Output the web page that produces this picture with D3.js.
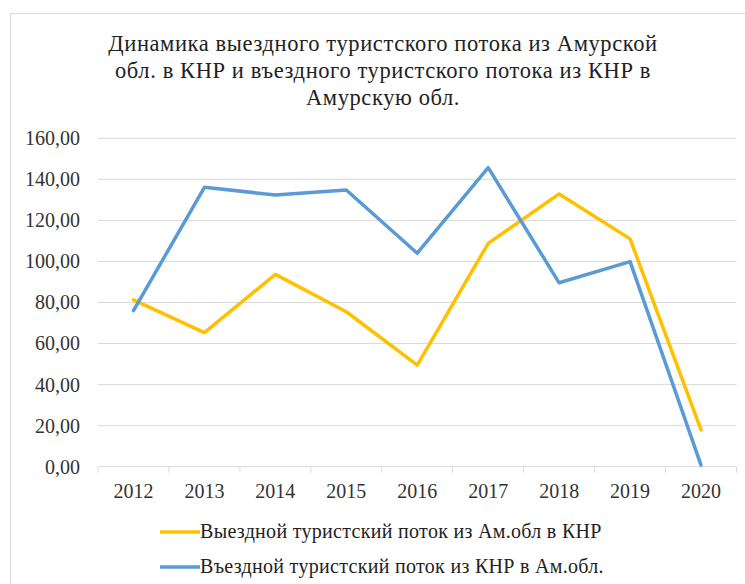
<!DOCTYPE html>
<html>
<head>
<meta charset="utf-8">
<script src="https://cdn.jsdelivr.net/npm/d3@7"></script>
</head>
<body style="margin:0">
<svg id="chart" width="745" height="584"></svg>
<script>
const years = ["2012","2013","2014","2015","2016","2017","2018","2019","2020"];
const outbound = [81.3, 65.3, 93.7, 75.5, 49.5, 108.8, 132.9, 111.0, 17.9];
const inbound = [76.0, 136.1, 132.4, 134.8, 104.0, 145.7, 89.6, 99.9, 0.8];
const yTicks = [0, 20, 40, 60, 80, 100, 120, 140, 160];
const seriesNames = ["Выездной туристский поток из Ам.обл в КНР", "Въездной туристский поток из КНР в Ам.обл."];
const seriesColors = ["#FFC000", "#5B9BD5"];
const titleLines = ["Динамика выездного туристского потока из Амурской", "обл. в КНР и въездного туристского потока из КНР в", "Амурскую обл."];

const FONT = "Liberation Serif";
const svg = d3.select("#chart");

// outer frame
svg.append("rect").attr("x", 10.5).attr("y", 13.5).attr("width", 760).attr("height", 600)
  .attr("fill", "#fff").attr("stroke", "#d9d9d9").attr("stroke-width", 1);

// title
svg.append("g").selectAll("text").data(titleLines).join("text")
  .attr("x", 383).attr("y", (d, i) => 51 + i * 27)
  .attr("text-anchor", "middle")
  .attr("font-family", FONT).style("font-family", `"${FONT}"`)
  .attr("font-size", 22.5).attr("letter-spacing", 0.6).attr("fill", "#222")
  .text(d => d);

const x = d3.scaleBand().domain(years).range([98, 736.5]);
const y = d3.scaleLinear().domain([0, 160]).range([466.7, 138.3]);

// gridlines
svg.append("g").selectAll("line").data(yTicks.filter(d => d > 0)).join("line")
  .attr("x1", 98).attr("x2", 736.5)
  .attr("y1", d => y(d)).attr("y2", d => y(d))
  .attr("stroke", "#d9d9d9").attr("stroke-width", 1);

// y axis labels
const yAxis = d3.axisLeft(y).tickValues(yTicks).tickSize(0).tickPadding(0)
  .tickFormat(d => d3.format(".2f")(d).replace(".", ","));
const gy = svg.append("g").attr("transform", "translate(80,0)").call(yAxis);
gy.attr("font-family", FONT).attr("font-size", 20);
gy.select(".domain").remove();
gy.selectAll("text").attr("font-family", FONT).style("font-family", `"${FONT}"`)
  .attr("font-size", 20).attr("fill", "#333");

// x axis
const xAxis = d3.axisBottom(x).tickSize(0).tickPadding(0);
const gx = svg.append("g").attr("transform", `translate(0,${y(0)})`).call(xAxis);
gx.attr("font-family", FONT).attr("font-size", 20);
gx.select(".domain").attr("stroke", "#d9d9d9").attr("d", `M98,0H736.5`);
gx.selectAll("text").attr("font-family", FONT).style("font-family", `"${FONT}"`)
  .attr("font-size", 20).attr("fill", "#333")
  .attr("dy", null).attr("y", 31);
// category boundary ticks
const bounds = years.map(d => x(d)).concat([x(years[years.length - 1]) + x.bandwidth()]);
gx.append("g").selectAll("line").data(bounds).join("line")
  .attr("x1", d => d).attr("x2", d => d).attr("y1", 0).attr("y2", 6)
  .attr("stroke", "#d9d9d9").attr("stroke-width", 1);

// lines
const line = d3.line().x((d, i) => x(years[i]) + x.bandwidth() / 2).y(d => y(d));
[outbound, inbound].forEach((s, i) => {
  svg.append("path").datum(s).attr("d", line)
    .attr("fill", "none").attr("stroke", seriesColors[i]).attr("stroke-width", 3.5)
    .attr("stroke-linejoin", "round").attr("stroke-linecap", "round");
});

// legend
const lg = svg.append("g").selectAll("g").data(seriesNames).join("g")
  .attr("transform", (d, i) => `translate(160,${532 + i * 35})`);
lg.append("line").attr("x1", 0).attr("x2", 40).attr("y1", 0).attr("y2", 0)
  .attr("stroke", (d, i) => seriesColors[i]).attr("stroke-width", 3.5);
lg.append("text").attr("x", 40).attr("y", 6)
  .attr("font-family", FONT).style("font-family", `"${FONT}"`)
  .attr("font-size", 20).attr("letter-spacing", 0.3).attr("fill", "#222")
  .text(d => d);
</script>
</body>
</html>
